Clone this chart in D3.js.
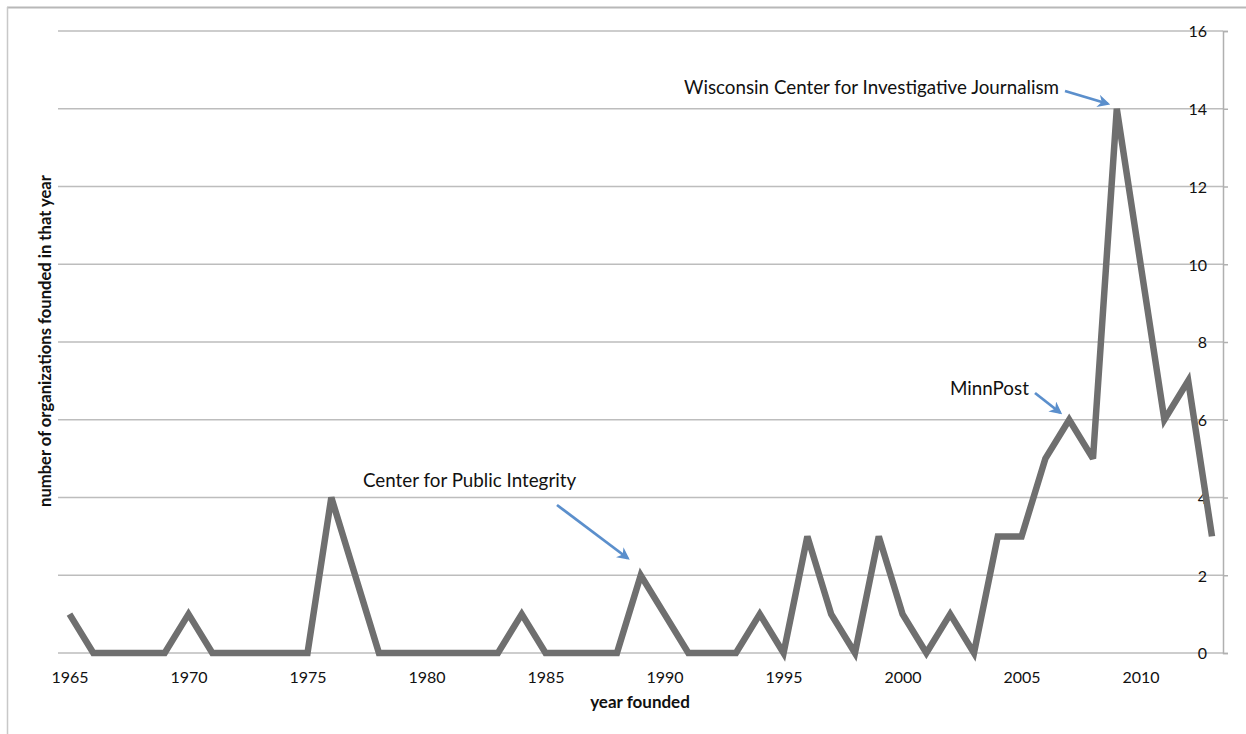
<!DOCTYPE html>
<html><head><meta charset="utf-8">
<script src="https://cdn.jsdelivr.net/npm/d3@7"></script>
<style>body{margin:0;background:#fff;} svg{display:block;}</style>
</head><body>
<svg id="chart" width="1246" height="734"></svg>
<script>
const years = [1965,1966,1967,1968,1969,1970,1971,1972,1973,1974,1975,1976,1977,1978,1979,1980,1981,1982,1983,1984,1985,1986,1987,1988,1989,1990,1991,1992,1993,1994,1995,1996,1997,1998,1999,2000,2001,2002,2003,2004,2005,2006,2007,2008,2009,2010,2011,2012,2013];
const counts = [1,0,0,0,0,1,0,0,0,0,0,4,2,0,0,0,0,0,0,1,0,0,0,0,2,1,0,0,0,1,0,3,1,0,3,1,0,1,0,3,3,5,6,5,14,10,6,7,3];
const xTickLabels = [1965,1970,1975,1980,1985,1990,1995,2000,2005,2010];
const yTicks = [0,2,4,6,8,10,12,14,16];
const annotations = [
  {year:2009, text:"Wisconsin Center for Investigative Journalism"},
  {year:2007, text:"MinnPost"},
  {year:1989, text:"Center for Public Integrity"}
];

const svg = d3.select("#chart");
const font = "Lato, 'Open Sans', sans-serif";

// outer frame
svg.append("line").attr("x1",7).attr("x2",1246).attr("y1",7.5).attr("y2",7.5).attr("stroke","#b8b8b8").attr("stroke-width",2);
svg.append("line").attr("x1",7.5).attr("x2",7.5).attr("y1",7).attr("y2",734).attr("stroke","#c8c8c8").attr("stroke-width",1.5);

const x = d3.scaleLinear().domain([1965,2013]).range([69.5,1212]);
const y = d3.scaleLinear().domain([0,16]).range([653,31]);
const gridLeft = 58, axisX = 1223;

// gridlines
svg.append("g").selectAll("line").data(yTicks).join("line")
  .attr("x1",gridLeft).attr("x2",axisX).attr("y1",d=>y(d)).attr("y2",d=>y(d))
  .attr("stroke","#bdbdbd").attr("stroke-width",1.5);

// right axis
const yAxis = d3.axisRight(y).tickValues(yTicks).tickSize(5).tickFormat(d3.format("d"));
const ga = svg.append("g").attr("transform",`translate(${axisX},0)`).call(yAxis);
ga.select(".domain").attr("stroke","#b0b0b0").attr("stroke-width",1.5);
ga.selectAll(".tick line").attr("stroke","#b0b0b0").attr("stroke-width",1.5);
ga.selectAll(".tick text").attr("x",-16).attr("text-anchor","end").attr("dy","0.36em")
  .attr("font-family",font).attr("font-size",16).attr("fill","#111");

// bottom labels
const xAxis = d3.axisBottom(x).tickValues(xTickLabels).tickSize(0).tickFormat(d3.format("d"));
const gx = svg.append("g").attr("transform",`translate(0,0)`).call(xAxis);
gx.select(".domain").remove();
gx.selectAll(".tick text").attr("y",683).attr("dy",null)
  .attr("font-family",font).attr("font-size",16).attr("fill","#111");

// line
const line = d3.line().x((d,i)=>x(years[i])).y(d=>y(d));
svg.append("path").datum(counts).attr("d",line)
  .attr("fill","none").attr("stroke","#6f6f6f").attr("stroke-width",6.5).attr("stroke-linejoin","miter").attr("stroke-miterlimit",3);

// axis titles
svg.append("text").attr("x",640).attr("y",708).attr("text-anchor","middle")
  .attr("font-family",font).attr("font-weight","bold").attr("font-size",17).attr("fill","#111").text("year founded");
svg.append("text").attr("transform",`translate(51,341) rotate(-90)`).attr("text-anchor","middle")
  .attr("font-family",font).attr("font-weight","bold").attr("font-size",16.6).attr("fill","#111")
  .text("number of organizations founded in that year");

// annotations
const defs = svg.append("defs");
defs.append("marker").attr("id","arrow").attr("viewBox","0 0 10 10").attr("refX",8).attr("refY",5)
  .attr("markerWidth",4.5).attr("markerHeight",4.5).attr("orient","auto")
  .append("path").attr("d","M0,0 L10,5 L0,10 L3,5 Z").attr("fill","#5b8fcc");

const val = yr => counts[years.indexOf(yr)];
const annPos = [
  {tx:684, ty:94, x1:1065, y1:91, dx:-9, dy:-5},
  {tx:950, ty:395, x1:1035, y1:393, dx:-9, dy:-7},
  {tx:363, ty:487, x1:557, y1:505, dx:-13, dy:-17}
];
annotations.forEach((a,i)=>{
  const p = annPos[i];
  svg.append("text").attr("x",p.tx).attr("y",p.ty).attr("font-family",font).attr("font-size",18.8).attr("fill","#111").text(a.text);
  svg.append("line").attr("x1",p.x1).attr("y1",p.y1)
    .attr("x2",x(a.year)+p.dx).attr("y2",y(val(a.year))+p.dy)
    .attr("stroke","#5b8fcc").attr("stroke-width",2.8).attr("marker-end","url(#arrow)");
});
</script>
</body></html>
